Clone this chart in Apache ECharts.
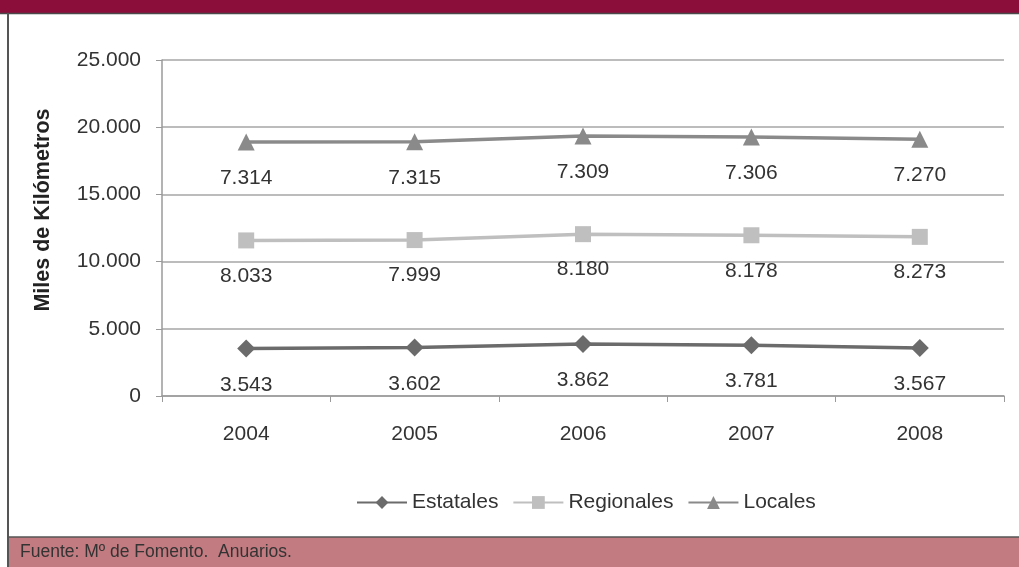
<!DOCTYPE html>
<html>
<head>
<meta charset="utf-8">
<script src="https://cdn.jsdelivr.net/npm/echarts@6/dist/echarts.min.js"></script>
<style>
  html, body { margin: 0; padding: 0; background: #fff; }
  #chart { width: 1019px; height: 567px; }
</style>
</head>
<body>
<div id="chart"></div>
<script>
// Longitud de la red de carreteras por titularidad (miles de km)
const years = ['2004', '2005', '2006', '2007', '2008'];
const estatales = [3543, 3602, 3862, 3781, 3567];
const regionales = [8033, 7999, 8180, 8178, 8273];
const locales = [7314, 7315, 7309, 7306, 7270];
const yTicks = [0, 5000, 10000, 15000, 20000, 25000];

const FONT = '"Liberation Sans", Arial, sans-serif';

function fmt(v) {
  return String(v).replace(/\B(?=(\d{3})+(?!\d))/g, '.');
}

const chart = echarts.init(document.getElementById('chart'));

function lineSeries(name, data, color, symbol, size) {
  return {
    name: name,
    type: 'line',
    stack: 'total',
    data: data,
    symbol: symbol,
    symbolSize: size,
    lineStyle: { color: color, width: 3.5 },
    itemStyle: { color: color },
    label: {
      show: true,
      position: 'bottom',
      distance: 17,
      color: '#333',
      fontFamily: FONT,
      fontSize: 21,
      formatter: p => fmt(p.value)
    },
    animation: false
  };
}

chart.setOption({
  backgroundColor: '#fff',
  animation: false,
  grid: { left: 162, right: 15, top: 60, bottom: 171 },
  legend: {
    top: 487,
    left: 351,
    itemWidth: 50,
    itemHeight: 16,
    itemGap: 14,
    textStyle: { color: '#333', fontFamily: FONT, fontSize: 21 },
    data: ['Estatales', 'Regionales', 'Locales']
  },
  xAxis: {
    type: 'category',
    data: years,
    boundaryGap: true,
    axisLine: { lineStyle: { color: '#9a9a9a', width: 1.5 } },
    axisTick: { show: true, length: 6, lineStyle: { color: '#9a9a9a' } },
    axisLabel: { color: '#333', fontFamily: FONT, fontSize: 21, margin: 28 }
  },
  yAxis: {
    type: 'value',
    min: yTicks[0],
    max: yTicks[yTicks.length - 1],
    interval: yTicks[1] - yTicks[0],
    axisLine: { show: true, lineStyle: { color: '#9a9a9a', width: 1.5 } },
    axisTick: { show: true, length: 6, lineStyle: { color: '#9a9a9a' } },
    splitLine: { lineStyle: { color: '#a6a6a6', width: 1.5 } },
    axisLabel: {
      color: '#333', fontFamily: FONT, fontSize: 21, margin: 21,
      formatter: v => fmt(v)
    }
  },
  series: [
    lineSeries('Estatales', estatales, '#6b6b6b', 'diamond', 18),
    lineSeries('Regionales', regionales, '#bfbfbf', 'rect', 16),
    lineSeries('Locales', locales, '#8a8a8a', 'triangle', 17)
  ],
  graphic: [
    // título del eje vertical
    {
      type: 'text', x: 43, y: 210, rotation: Math.PI / 2, z: 11,
      style: {
        text: 'Miles de Kilómetros', fill: '#222',
        font: 'bold 21.5px ' + FONT, align: 'center', verticalAlign: 'middle'
      }
    },
    // banda superior
    { type: 'rect', shape: { x: 0, y: 0, width: 1019, height: 13 }, style: { fill: '#8b0e3a' }, z: 10 },
    { type: 'line', shape: { x1: 0, y1: 13.5, x2: 1019, y2: 13.5 }, style: { stroke: '#4a4a4a', lineWidth: 1.5 }, z: 10 },
    // marco izquierdo
    { type: 'line', shape: { x1: 8, y1: 13, x2: 8, y2: 567 }, style: { stroke: '#555', lineWidth: 2 }, z: 10 },
    // pie con la fuente
    { type: 'rect', shape: { x: 9, y: 537, width: 1010, height: 30 }, style: { fill: '#c27b80' }, z: 10 },
    { type: 'line', shape: { x1: 8, y1: 537, x2: 1019, y2: 537 }, style: { stroke: '#555', lineWidth: 1.5 }, z: 10 },
    {
      type: 'text', left: 20, top: 543, z: 11,
      style: { text: 'Fuente: Mº de Fomento.  Anuarios.', fill: '#333', font: '17.5px ' + FONT }
    }
  ]
});
</script>
</body>
</html>
